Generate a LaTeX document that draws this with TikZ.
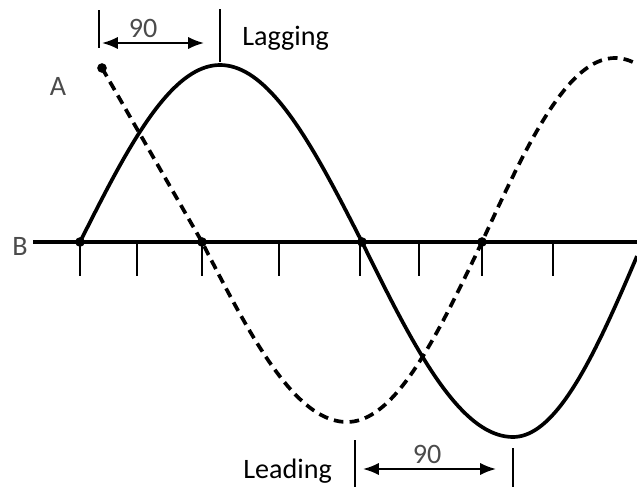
\documentclass[tikz,border=0pt]{standalone}
\usepackage{fontspec}
\setmainfont{Carlito}
\usetikzlibrary{arrows.meta}
\definecolor{labelgray}{RGB}{75,75,75}
\tikzset{
  wave/.style={line width=2.1pt,line join=round},
  dashwave/.style={line width=2.1pt,dash pattern=on 5.5pt off 3.5pt},
  axisline/.style={line width=1.9pt},
  tickline/.style={line width=0.8pt},
  markline/.style={line width=0.8pt},
  phasearr/.style={{Latex[length=9pt,width=7pt]}-{Latex[length=9pt,width=7pt]},line width=1.2pt},
  lbl/.style={font=\fontsize{16}{19}\selectfont,inner sep=0pt},
  dot/.style={circle,fill=black,inner sep=0pt,minimum size=5.5pt}
}

\begin{document}
\begin{tikzpicture}[x=0.02cm,y=-0.02cm]
  \useasboundingbox (0,0) rectangle (637,487);

  %% Labels
  \node[lbl,text=labelgray,anchor=base] (labA) at (58,95) {A};
  \node[lbl,text=labelgray,anchor=base] (labB) at (20,255) {B};
  \node[lbl,anchor=base west] (lag) at (242,45) {Lagging};
  \node[lbl,anchor=base west] (lead) at (243,478) {Leading};

  %% Axis and ticks
  \draw[axisline] (33,242) -- (637,242);
  \foreach \t in {80,137,202,279,360,419,482,553}
    \draw[tickline] (\t,242) -- (\t,276);

  %% Solid wave
  \draw[wave] plot[domain=80:220,samples=40] (\x,{242-177*sin((\x-80)/140*90)})
    -- plot[domain=220:362,samples=40] (\x,{242-177*cos((\x-220)/142*90)})
    -- plot[domain=362:513,samples=40] (\x,{242+195*sin((\x-362)/151*90)})
    -- plot[domain=513:637,samples=40] (\x,{242+195*cos((\x-513)/130*90)});

  %% Dashed wave
  \draw[dashwave] (102,68) -- (202,242)
    -- plot[domain=202:347,samples=40] (\x,{242+180*sin((\x-202)/145*90)})
    -- plot[domain=347:482,samples=40] (\x,{242+180*cos((\x-347)/135*90)})
    -- plot[domain=482:615,samples=40] (\x,{242-184*sin((\x-482)/133*90)})
    -- plot[domain=615:637,samples=10] (\x,{242-184*cos((\x-615)/133*90)});

  %% Dots
  \node[dot] (dA) at (102,68) {};
  \node[dot] (d1) at (80,242) {};
  \node[dot] (d2) at (202,242) {};
  \node[dot] (d3) at (362,242) {};
  \node[dot] (d4) at (482,242) {};

  %% Lagging marker
  \draw[markline] (99,10) -- (99,48);
  \draw[markline] (220,9) -- (220,62);
  \coordinate (lagL) at (102,43);
  \coordinate (lagR) at (204,43);
  \draw[phasearr] (lagL) -- (lagR);
  \node[lbl,text=labelgray] (lag90) at (143,28) {90};

  %% Leading marker
  \draw[markline] (355,440) -- (355,487);
  \draw[markline] (513,448) -- (513,487);
  \coordinate (leadL) at (363,469);
  \coordinate (leadR) at (496,469);
  \draw[phasearr] (leadL) -- (leadR);
  \node[lbl,text=labelgray] (lead90) at (427,454) {90};
\end{tikzpicture}
\end{document}
